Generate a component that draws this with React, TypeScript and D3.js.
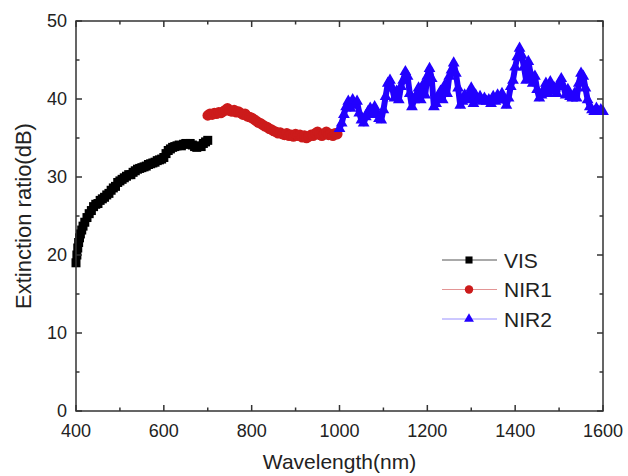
import { useEffect, useRef } from "react"
import * as d3 from "d3"

// VIS band (denser near the steep start)
const visWavelength = [400, 402, 404, 406, 408, 410, 413, 416, 420, 425, 430, 435, 440, 445, 450, 455, 460, 465, 470, 475, 480, 485, 490, 495, 500, 505, 510, 515, 520, 525, 530, 535, 540, 545, 550, 555, 560, 565, 570, 575, 580, 585, 590, 595, 600, 605, 610, 615, 620, 625, 630, 635, 640, 645, 650, 655, 660, 665, 670, 675, 680, 685, 690, 695, 700]
const visRatio = [19.0, 20.0, 20.9, 21.6, 22.2, 22.7, 23.2, 23.7, 24.2, 24.8, 25.3, 25.7, 26.2, 26.5, 26.6, 27.0, 27.2, 27.4, 27.7, 27.9, 28.3, 28.6, 28.8, 29.3, 29.5, 29.7, 29.9, 30.1, 30.3, 30.3, 30.6, 30.8, 31.0, 31.1, 31.2, 31.3, 31.4, 31.6, 31.7, 31.8, 31.9, 32.1, 32.2, 32.3, 32.5, 33.0, 33.4, 33.6, 33.8, 33.9, 34.0, 34.1, 34.0, 34.2, 34.3, 34.2, 34.3, 34.1, 33.9, 33.8, 34.0, 33.9, 34.3, 34.5, 34.7]

// NIR1: 700 -> 995 nm, every 5 nm
const nir1Wavelength = d3.range(700, 1000, 5)
const nir1Ratio = [37.9, 38.1, 38.0, 38.2, 38.1, 38.3, 38.2, 38.4, 38.6, 38.8, 38.5, 38.4, 38.6, 38.3, 38.4, 38.2, 38.0, 38.1, 37.8, 37.7, 37.6, 37.4, 37.2, 37.0, 36.9, 36.7, 36.5, 36.4, 36.2, 36.1, 35.9, 35.8, 35.6, 35.7, 35.5, 35.4, 35.6, 35.3, 35.4, 35.2, 35.5, 35.3, 35.4, 35.1, 35.3, 35.0, 35.2, 35.4, 35.3, 35.6, 35.8, 35.4, 35.3, 35.5, 35.8, 35.4, 35.5, 35.3, 35.6, 35.5]

// NIR2: 1000 -> 1600 nm, every 5 nm
const nir2Wavelength = d3.range(1000, 1601, 5)
const nir2Ratio = [
    36.2, 36.9, 38.0, 39.0, 39.7, 38.8, 39.9, 39.2, 39.7, 38.2,
    37.3, 36.9, 37.7, 38.4, 38.8, 38.0, 39.0, 38.2, 37.5, 37.3,
    38.6, 40.3, 42.0, 42.4, 41.4, 40.1, 41.0, 39.9, 41.6, 42.4,
    43.5, 42.9, 40.7, 39.0, 39.9, 40.5, 41.4, 39.9, 41.8, 40.5,
    42.9, 43.9, 42.6, 39.0, 39.4, 40.3, 41.0, 39.9, 41.8, 40.7,
    42.9, 43.7, 44.6, 43.3, 41.4, 39.2, 39.7, 40.5, 39.9, 40.7,
    41.4, 39.4, 40.5, 39.9, 40.3, 39.7, 40.1, 39.7, 39.9, 39.4,
    40.3, 39.7, 40.5, 39.9, 40.7, 39.9, 39.2, 40.1, 41.6, 42.4,
    44.1, 45.4, 46.5, 45.6, 44.1, 42.4, 44.8, 43.3, 42.0, 42.9,
    41.2, 40.1, 40.5, 41.2, 42.0, 40.7, 42.2, 41.0, 41.4, 40.7,
    42.0, 42.6, 41.6, 40.5, 41.2, 40.3, 40.1, 40.7, 40.1, 42.0,
    43.3, 42.9, 41.4, 39.9, 39.0, 38.6, 38.4, 38.8, 38.4, 38.6,
    38.4,
]

const seriesNames = ["VIS", "NIR1", "NIR2"]
const seriesColors = ["#000000", "#cc1b1b", "#2200ff"]
const lineColors = ["#555555", "#e39595", "#9990ff"]

const xTicks = d3.range(400, 1601, 100)
const yTicks = d3.range(0, 51, 5)

const width = 628
const height = 476
const margin = { top: 21, right: 25, bottom: 65, left: 76 }
const font = "'Liberation Sans', Arial, sans-serif"

const App = () => {
    const ref = useRef<SVGSVGElement>(null)

    useEffect(() => {
        const svg = d3.select(ref.current)
        svg.selectAll("*").remove()

        const x = d3.scaleLinear().domain([400, 1600]).range([margin.left, width - margin.right])
        const y = d3.scaleLinear().domain([0, 50]).range([height - margin.bottom, margin.top])

        const symbols = [
            d3.symbol().type(d3.symbolSquare).size(81),
            d3.symbol().type(d3.symbolCircle).size(88),
            d3.symbol().type(d3.symbolTriangle).size(60),
        ]
        const legendSymbols = [
            d3.symbol().type(d3.symbolSquare).size(50),
            d3.symbol().type(d3.symbolCircle).size(56),
            d3.symbol().type(d3.symbolTriangle).size(42),
        ]
        const bandWidth = [4, 4, 6]

        const series = [
            visWavelength.map((w, i) => [w, visRatio[i]]),
            nir1Wavelength.map((w, i) => [w, nir1Ratio[i]]),
            nir2Wavelength.map((w, i) => [w, nir2Ratio[i]]),
        ]

        const line = d3.line<number[]>().x(d => x(d[0])).y(d => y(d[1]))

        series.forEach((pts, s) => {
            svg.append("path")
                .attr("d", line(pts))
                .attr("fill", "none")
                .attr("stroke", seriesColors[s])
                .attr("stroke-width", bandWidth[s])
                .attr("stroke-linejoin", "round")
            svg.append("g")
                .selectAll("path")
                .data(pts)
                .enter()
                .append("path")
                .attr("d", symbols[s]())
                .attr("transform", d => `translate(${x(d[0])},${y(d[1])})`)
                .attr("fill", seriesColors[s])
        })

        // frame
        const x0 = margin.left, x1 = width - margin.right
        const y0 = height - margin.bottom, y1 = margin.top
        svg.append("rect")
            .attr("x", x0).attr("y", y1)
            .attr("width", x1 - x0).attr("height", y0 - y1)
            .attr("fill", "none").attr("stroke", "#333").attr("stroke-width", 1.5)

        // inward ticks on all four sides
        const tickG = svg.append("g").attr("stroke", "#333").attr("stroke-width", 1.5)
        xTicks.forEach(t => {
            const len = t % 200 === 0 ? 6 : 3.5
            tickG.append("line").attr("x1", x(t)).attr("x2", x(t)).attr("y1", y0).attr("y2", y0 - len)
            tickG.append("line").attr("x1", x(t)).attr("x2", x(t)).attr("y1", y1).attr("y2", y1 + len)
        })
        yTicks.forEach(t => {
            const len = t % 10 === 0 ? 6 : 3.5
            tickG.append("line").attr("x1", x0).attr("x2", x0 + len).attr("y1", y(t)).attr("y2", y(t))
            tickG.append("line").attr("x1", x1).attr("x2", x1 - len).attr("y1", y(t)).attr("y2", y(t))
        })

        svg.append("g")
            .selectAll("text")
            .data(xTicks.filter(t => t % 200 === 0))
            .enter()
            .append("text")
            .attr("x", d => x(d))
            .attr("y", y0 + 26)
            .attr("text-anchor", "middle")
            .attr("font-size", 18)
            .attr("font-family", font)
            .attr("fill", "#222")
            .text(d => d)

        svg.append("g")
            .selectAll("text")
            .data(yTicks.filter(t => t % 10 === 0))
            .enter()
            .append("text")
            .attr("x", x0 - 9)
            .attr("y", d => y(d))
            .attr("dy", "0.32em")
            .attr("text-anchor", "end")
            .attr("font-size", 18)
            .attr("font-family", font)
            .attr("fill", "#222")
            .text(d => d)

        svg.append("text")
            .attr("x", (x0 + x1) / 2)
            .attr("y", 469)
            .attr("text-anchor", "middle")
            .attr("font-size", 21)
            .attr("font-family", font)
            .attr("fill", "#222")
            .text("Wavelength(nm)")

        svg.append("text")
            .attr("transform", `translate(31, ${(y0 + y1) / 2}) rotate(-90)`)
            .attr("text-anchor", "middle")
            .attr("font-size", 22)
            .attr("font-family", font)
            .attr("fill", "#222")
            .text("Extinction ratio(dB)")

        // legend
        const legend = svg.append("g")
        seriesNames.forEach((name, i) => {
            const ly = 260 + i * 29.5
            legend.append("line")
                .attr("x1", 442).attr("x2", 497).attr("y1", ly).attr("y2", ly)
                .attr("stroke", lineColors[i]).attr("stroke-width", 1)
            legend.append("path")
                .attr("d", legendSymbols[i]())
                .attr("transform", `translate(469,${ly})`)
                .attr("fill", seriesColors[i])
            legend.append("text")
                .attr("x", 504).attr("y", ly)
                .attr("dy", "0.36em")
                .attr("font-size", 21)
                .attr("font-family", font)
                .attr("fill", "#222")
                .text(name)
        })
    }, [])

    return (
        <svg
            ref={ref}
            width={width}
            height={height}
            style={{ position: "absolute", left: 0, top: 0, background: "#fff" }}
        />
    )
}

export default App
